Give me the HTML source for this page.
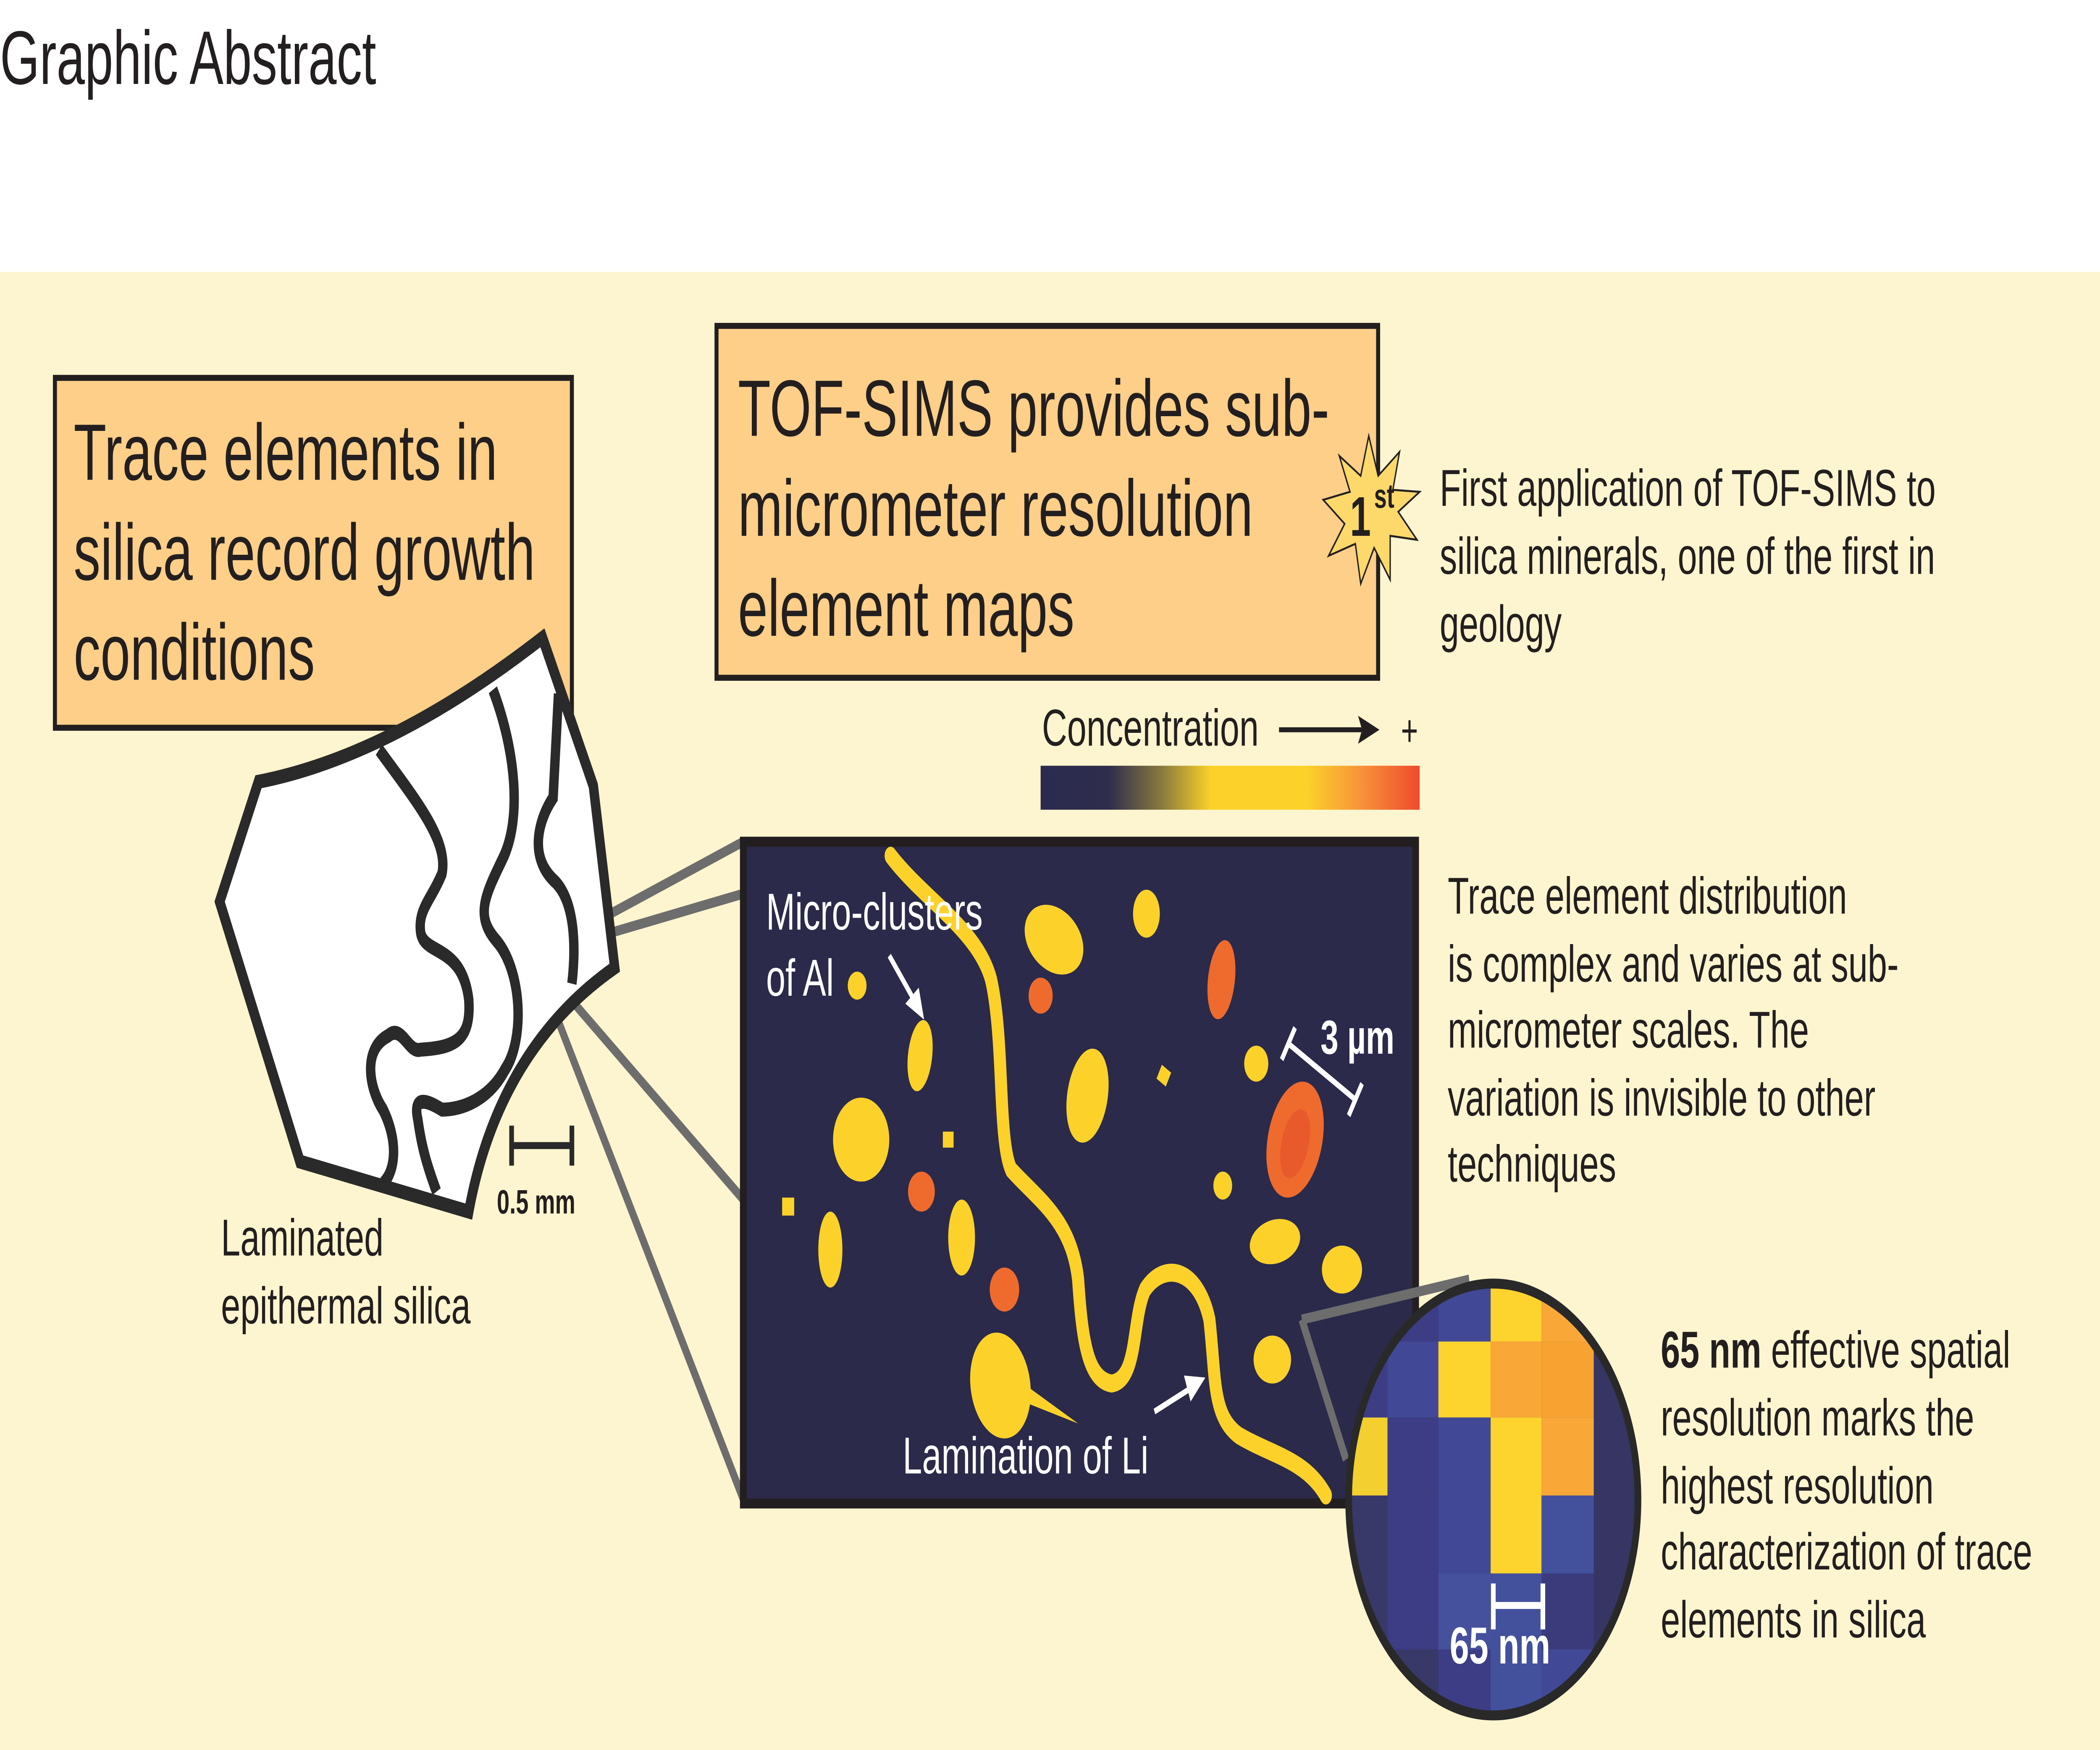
<!DOCTYPE html>
<html><head><meta charset="utf-8"><style>
html,body{margin:0;padding:0;background:#fff;overflow:hidden;width:100%;height:100%;}
svg{display:block;position:absolute;left:0;top:0;width:100vw;height:100vh;}
text{font-family:"Liberation Sans",Arial,sans-serif;fill:#231f20;}
</style></head><body>
<svg viewBox="0 0 1568 875.3" preserveAspectRatio="none" xmlns="http://www.w3.org/2000/svg">
<defs>
<linearGradient id="cg" x1="0" x2="1" y1="0" y2="0">
<stop offset="0" stop-color="#2b2b50"/><stop offset="0.18" stop-color="#2e2d4c"/><stop offset="0.32" stop-color="#8a7a3e"/><stop offset="0.45" stop-color="#fcd22a"/><stop offset="0.7" stop-color="#fcd22a"/><stop offset="0.85" stop-color="#f7913a"/><stop offset="1" stop-color="#ee4a2d"/>
</linearGradient>
<clipPath id="cc"><circle cx="1115" cy="750" r="108"/></clipPath>
</defs>
<rect x="0" y="0" width="1568" height="876" fill="#fff"/>
<text x="0" y="42" font-size="38">Graphic Abstract</text>
<rect x="0" y="136" width="1568" height="740" fill="#fdf5cf"/>

<rect x="41" y="189" width="386" height="175" fill="#fdcf88" stroke="#231f20" stroke-width="3"/>
<text x="55" y="240" font-size="40">Trace elements in</text>
<text x="55" y="290" font-size="40">silica record growth</text>
<text x="55" y="340" font-size="40">conditions</text>

<rect x="535" y="163" width="494" height="176" fill="#fdcf88" stroke="#231f20" stroke-width="3"/>
<text x="551" y="218" font-size="40">TOF-SIMS provides sub-</text>
<text x="551" y="268" font-size="40">micrometer resolution</text>
<text x="551" y="318" font-size="40">element maps</text>

<polygon points="1022,218 1029,238 1045,226 1040,245 1060,246 1044,256 1058,270 1038,268 1038,290 1026,274 1016,292 1012,272 992,278 1004,262 988,250 1008,246 1000,228 1016,238" fill="#fcd96a" stroke="#231f20" stroke-width="1"/>
<text x="1008" y="268" font-size="28" font-weight="bold">1</text>
<text x="1026" y="254" font-size="17" font-weight="bold">st</text>

<text x="1075" y="253" font-size="26">First application of TOF-SIMS to</text>
<text x="1075" y="287" font-size="26">silica minerals, one of the first in</text>
<text x="1075" y="321" font-size="26">geology</text>

<text x="778" y="373" font-size="26">Concentration</text>
<line x1="955" y1="365" x2="1022" y2="365" stroke="#231f20" stroke-width="2.5"/>
<polygon points="1030,365 1014,358 1017,365 1014,372" fill="#231f20"/>
<text x="1046" y="373" font-size="22">+</text>
<rect x="777" y="383" width="283" height="22" fill="url(#cg)"/>

<g stroke="#6d6d6d" stroke-width="5" fill="none">
<line x1="398" y1="478" x2="555" y2="421"/>
<line x1="398" y1="478" x2="555" y2="447"/>
<line x1="398" y1="478" x2="555" y2="600"/>
<line x1="398" y1="478" x2="555" y2="750"/>
</g>

<g stroke="#2a2a2a" stroke-width="7" fill="none" stroke-linejoin="miter">
<path d="M193,391 Q292,378 405,319 L443,393 L459,484 Q372,525 350,606 L224,581 L164,451 Z" fill="#fff"/>
<path d="M283,375 C310,400 335,420 330,437 C322,450 312,455 314,466 C316,478 345,472 350,500 C352,520 340,524 314,525 C305,527 300,512 290,518 C270,525 276,545 286,555 C297,570 296,585 286,592"/>
<path d="M368,345 C385,375 390,410 375,430 C362,448 355,458 370,470 C390,485 392,520 377,535 C365,550 345,555 330,555 C318,550 308,548 312,560 C315,575 320,585 326,596"/>
<path d="M417,347 L413,399 C402,410 395,428 413,440 C430,450 430,475 427,492"/>
</g>
<g stroke="#2a2a2a" stroke-width="3.5">
<line x1="382" y1="573" x2="427" y2="573"/><line x1="382" y1="563" x2="382" y2="583"/><line x1="427" y1="563" x2="427" y2="583"/>
</g>
<text x="371" y="607" font-size="17" font-weight="bold">0.5 mm</text>
<text x="165" y="628" font-size="26">Laminated</text>
<text x="165" y="662" font-size="26">epithermal silica</text>

<rect x="555" y="421" width="502" height="331" fill="#2b2a4a" stroke="#231f20" stroke-width="5"/>
<path d="M665,428 C690,450 730,465 740,490 C750,520 745,570 755,585 C775,600 800,610 805,640 C808,670 812,690 830,692 C850,690 845,660 855,645 C870,630 895,635 903,660 C908,690 905,708 925,718 C950,728 975,730 990,748" stroke="#fcd22a" stroke-width="9" fill="none" stroke-linecap="round"/>
<g fill="#fcd22a">
<ellipse cx="787" cy="470" rx="23" ry="16" transform="rotate(25 787 470)"/>
<ellipse cx="856" cy="457" rx="10" ry="12"/>
<circle cx="640" cy="493" r="7"/>
<ellipse cx="687" cy="528" rx="9" ry="18" transform="rotate(10 687 528)"/>
<ellipse cx="812" cy="548" rx="15" ry="24" transform="rotate(15 812 548)"/>
<rect x="865" y="534" width="8" height="8" transform="rotate(30 869 538)"/>
<circle cx="643" cy="570" r="21"/>
<rect x="704" y="566" width="8" height="8"/>
<rect x="584" y="599" width="9" height="9"/>
<ellipse cx="620" cy="625" rx="9" ry="19"/>
<ellipse cx="718" cy="619" rx="10" ry="19"/>
<circle cx="913" cy="593" r="7"/>
<ellipse cx="952" cy="621" rx="19" ry="11" transform="rotate(-10 952 621)"/>
<ellipse cx="1002" cy="635" rx="15" ry="12"/>
<circle cx="938" cy="532" r="9"/>
<ellipse cx="747" cy="693" rx="22" ry="27" transform="rotate(-20 747 693)"/>
<polygon points="760,690 805,712 760,700"/>
<ellipse cx="950" cy="680" rx="14" ry="12"/>
</g>
<g fill="#ef6b2d">
<ellipse cx="912" cy="490" rx="10" ry="20" transform="rotate(10 912 490)"/>
<circle cx="777" cy="498" r="9"/>
<circle cx="688" cy="596" r="10"/>
<circle cx="750" cy="645" r="11"/>
<ellipse cx="967" cy="570" rx="20" ry="30" transform="rotate(20 967 570)"/>
<ellipse cx="967" cy="572" rx="10" ry="18" transform="rotate(20 967 572)" fill="#e85a2b"/>
</g>
<text x="572" y="465" font-size="26" style="fill:#fff">Micro-clusters</text>
<text x="572" y="498" font-size="26" style="fill:#fff">of Al</text>
<line x1="664" y1="478" x2="684" y2="502" stroke="#fff" stroke-width="3"/>
<polygon points="690,510 676,502 686,494" fill="#fff"/>
<g stroke="#fff" stroke-width="3">
<line x1="962" y1="522" x2="1012" y2="550"/><line x1="957" y1="530" x2="967" y2="514"/><line x1="1007" y1="558" x2="1017" y2="542"/>
</g>
<text x="986" y="527" font-size="24" font-weight="bold" style="fill:#fff">3 µm</text>
<text x="674" y="737" font-size="26" style="fill:#fff">Lamination of Li</text>
<line x1="862" y1="706" x2="890" y2="694" stroke="#fff" stroke-width="3"/>
<polygon points="900,689 884,688 889,701" fill="#fff"/>

<g stroke="#6d6d6d" stroke-width="5" fill="none">
<line x1="972" y1="660" x2="1097" y2="640"/>
<line x1="972" y1="660" x2="1005" y2="730"/>
</g>

<g clip-path="url(#cc)">
<rect x="1000" y="630" width="240" height="240" fill="#363563"/>
<rect x="1036" y="630" width="38" height="41" fill="#3c3d85"/>
<rect x="1074" y="630" width="39" height="41" fill="#414996"/>
<rect x="1113" y="630" width="38" height="41" fill="#fdd32e"/>
<rect x="1151" y="630" width="39" height="41" fill="#f9a838"/>
<rect x="1000" y="671" width="36" height="38" fill="#3c3d85"/>
<rect x="1036" y="671" width="38" height="38" fill="#414996"/>
<rect x="1074" y="671" width="39" height="38" fill="#fdd32e"/>
<rect x="1113" y="671" width="38" height="38" fill="#f9a838"/>
<rect x="1151" y="671" width="39" height="38" fill="#f8a232"/>
<rect x="1000" y="709" width="36" height="39" fill="#f3cf2f"/>
<rect x="1036" y="709" width="38" height="39" fill="#3c3d85"/>
<rect x="1074" y="709" width="39" height="39" fill="#414996"/>
<rect x="1113" y="709" width="38" height="39" fill="#fdd32e"/>
<rect x="1151" y="709" width="39" height="39" fill="#f9a838"/>
<rect x="1000" y="748" width="36" height="39" fill="#383869"/>
<rect x="1036" y="748" width="38" height="39" fill="#3c3d85"/>
<rect x="1074" y="748" width="39" height="39" fill="#414996"/>
<rect x="1113" y="748" width="38" height="39" fill="#fdd32e"/>
<rect x="1151" y="748" width="39" height="39" fill="#43519d"/>
<rect x="1000" y="787" width="36" height="38" fill="#383869"/>
<rect x="1036" y="787" width="38" height="38" fill="#3c3d85"/>
<rect x="1074" y="787" width="39" height="38" fill="#46519d"/>
<rect x="1113" y="787" width="38" height="38" fill="#43519d"/>
<rect x="1151" y="787" width="39" height="38" fill="#3b3b7c"/>
<rect x="1000" y="825" width="74" height="50" fill="#383869"/>
<rect x="1074" y="825" width="39" height="50" fill="#3c3d85"/>
<rect x="1113" y="825" width="38" height="50" fill="#43519d"/>
<rect x="1151" y="825" width="39" height="50" fill="#414996"/>
</g>
<circle cx="1115" cy="750" r="108" fill="none" stroke="#292929" stroke-width="5"/>
<g stroke="#fff" stroke-width="3.5">
<line x1="1115" y1="803" x2="1152" y2="803"/><line x1="1115" y1="792" x2="1115" y2="815"/><line x1="1152" y1="792" x2="1152" y2="815"/>
</g>
<text x="1120" y="832" font-size="26" font-weight="bold" text-anchor="middle" style="fill:#fff">65 nm</text>

<text x="1081" y="457" font-size="26">Trace element distribution</text>
<text x="1081" y="491" font-size="26">is complex and varies at sub-</text>
<text x="1081" y="524" font-size="26">micrometer scales. The</text>
<text x="1081" y="558" font-size="26">variation is invisible to other</text>
<text x="1081" y="591" font-size="26">techniques</text>

<text x="1240" y="684" font-size="26"><tspan font-weight="bold">65 nm</tspan> effective spatial</text>
<text x="1240" y="718" font-size="26">resolution marks the</text>
<text x="1240" y="752" font-size="26">highest resolution</text>
<text x="1240" y="785" font-size="26">characterization of trace</text>
<text x="1240" y="819" font-size="26">elements in silica</text>
</svg>
</body></html>
